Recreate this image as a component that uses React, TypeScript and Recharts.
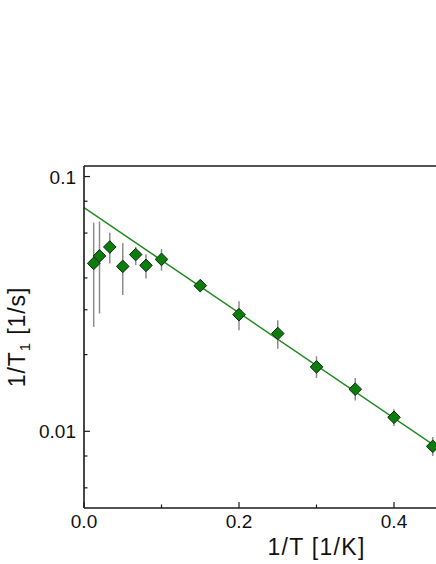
import {
  ComposedChart,
  ErrorBar,
  Line,
  ReferenceLine,
  Scatter,
  XAxis,
  YAxis,
} from "recharts";

// 1/T [1/K]
const invT = [0.0125, 0.02, 0.0333, 0.05, 0.0667, 0.08, 0.1, 0.15, 0.2, 0.25, 0.3, 0.35, 0.4, 0.45];
// 1/T1 [1/s]
const rate = [0.0456, 0.0488, 0.0529, 0.0444, 0.0494, 0.0448, 0.0473, 0.0373, 0.0287, 0.0242, 0.0179, 0.01463, 0.01135, 0.00873];
const rateLow = [0.0257, 0.029, 0.0456, 0.0343, 0.0449, 0.0398, 0.0427, 0.0355, 0.0249, 0.0211, 0.0162, 0.0132, 0.0105, 0.008];
const rateHigh = [0.0659, 0.0666, 0.0602, 0.0547, 0.053, 0.0495, 0.052, 0.039, 0.0324, 0.0273, 0.0197, 0.0162, 0.0122, 0.0095];

// straight fit on the log plot, endpoints only
const fitX = [0, 0.6];
const fitY = [0.0755, 0.00435];

const xTicks = [0, 0.1, 0.2, 0.3, 0.4, 0.5];
const xMajor = [0, 0.2, 0.4];
const yTicks = [0.006, 0.007, 0.008, 0.009, 0.01, 0.02, 0.03, 0.04, 0.05, 0.06, 0.07, 0.08, 0.09, 0.1];
const yMajor = [0.01, 0.1];

const points = invT.map((x, i) => ({
  x,
  y: rate[i],
  err: [rate[i] - rateLow[i], rateHigh[i] - rate[i]],
}));
const fit = fitX.map((x, i) => ({ x, y: fitY[i] }));

const font = "Arial, 'Liberation Sans', sans-serif";
const axisColor = "#1a1a1a";

function XTick(props: any) {
  const { x, y, payload } = props;
  const major = xMajor.includes(payload.value);
  return (
    <g>
      <line x1={x} x2={x} y1={y} y2={y - (major ? 6 : 3.5)} stroke={axisColor} strokeWidth={1.2} />
      {major && (
        <text x={x} y={y + 20} textAnchor="middle" fontSize={19} fontFamily={font} fill="#111">
          {payload.value.toFixed(1)}
        </text>
      )}
    </g>
  );
}

function YTick(props: any) {
  const { x, y, payload } = props;
  const major = yMajor.includes(payload.value);
  return (
    <g>
      <line x1={x} x2={x + (major ? 6 : 3.5)} y1={y} y2={y} stroke={axisColor} strokeWidth={1.2} />
      {major && (
        <text x={x - 8} y={y + 7} textAnchor="end" fontSize={19} fontFamily={font} fill="#111">
          {String(payload.value)}
        </text>
      )}
    </g>
  );
}

function Diamond(props: any) {
  const { cx, cy } = props;
  const r = 6.3;
  return (
    <path
      d={`M${cx},${cy - r}L${cx + r},${cy}L${cx},${cy + r}L${cx - r},${cy}Z`}
      fill="#0a7d0a"
      stroke="#0b2a0b"
      strokeWidth={1}
    />
  );
}

function YLabel(props: any) {
  const { viewBox } = props;
  const cy = viewBox.y + viewBox.height / 2;
  const x = 25;
  return (
    <text
      x={x}
      y={cy}
      transform={`rotate(-90, ${x}, ${cy})`}
      textAnchor="middle"
      fontSize={23}
      letterSpacing={0.9}
      fontFamily={font}
      fill="#111"
    >
      1/T
      <tspan fontSize={15} dy={5}>1</tspan>
      <tspan dy={-5}> [1/s]</tspan>
    </text>
  );
}

function XLabel(props: any) {
  const { viewBox } = props;
  const cx = viewBox.x + viewBox.width / 2;
  return (
    <text x={cx} y={555} textAnchor="middle" fontSize={23} letterSpacing={1.3} fontFamily={font} fill="#111">
      1/T [1/K]
    </text>
  );
}

export default function App() {
  return (
    <div style={{ width: 436, height: 564, overflow: "hidden", background: "#fff" }}>
      <style>{"body{margin:0}"}</style>
      <ComposedChart width={560} height={564} margin={{ top: 166, right: 11, bottom: 0, left: 0 }}>
        <XAxis
          type="number"
          dataKey="x"
          domain={[0, 0.6]}
          ticks={xTicks}
          allowDataOverflow
          height={56}
          tickSize={0}
          tickMargin={0}
          tickLine={false}
          tick={<XTick />}
          axisLine={{ stroke: axisColor, strokeWidth: 1.6 }}
          label={<XLabel />}
        />
        <YAxis
          type="number"
          dataKey="y"
          scale="log"
          domain={[0.005, 0.11]}
          ticks={yTicks}
          allowDataOverflow
          width={84}
          tickSize={0}
          tickMargin={0}
          tickLine={false}
          tick={<YTick />}
          axisLine={{ stroke: axisColor, strokeWidth: 1.6 }}
          label={<YLabel />}
        />
        <ReferenceLine y={0.11} stroke={axisColor} strokeWidth={1.6} />
        <Line
          data={fit}
          dataKey="y"
          type="linear"
          stroke="#1f8a1f"
          strokeWidth={1.5}
          dot={false}
          isAnimationActive={false}
        />
        <Scatter data={points} dataKey="y" shape={<Diamond />} isAnimationActive={false}>
          <ErrorBar dataKey="err" direction="y" width={0} stroke="#8c8c8c" strokeWidth={1.5} />
        </Scatter>
      </ComposedChart>
    </div>
  );
}
